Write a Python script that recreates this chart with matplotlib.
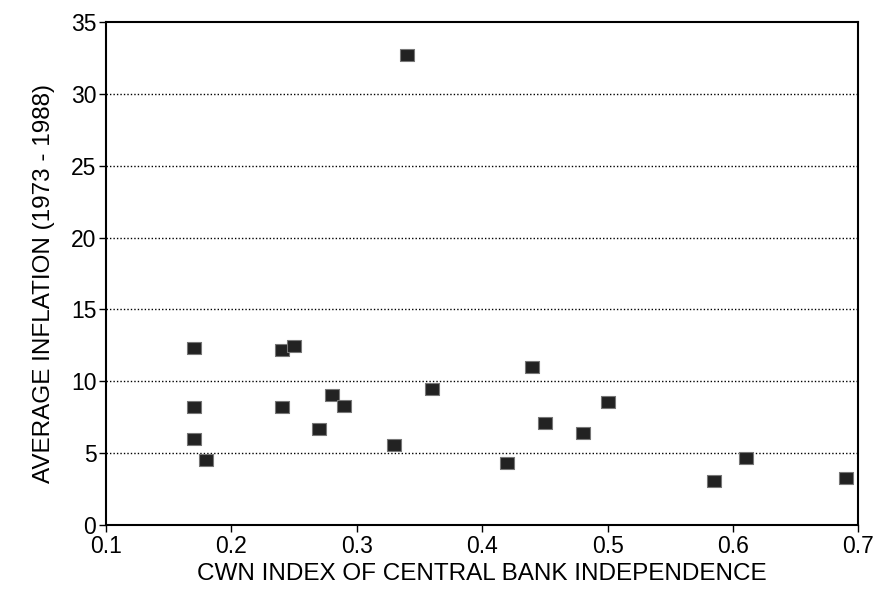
import numpy as np
import matplotlib.pyplot as plt

# CWN index vs average inflation 1973-1988
cwn = [0.17, 0.17, 0.17, 0.18, 0.24, 0.25, 0.24, 0.28, 0.29, 0.27,
       0.33, 0.34, 0.36, 0.42, 0.44, 0.45, 0.48, 0.50, 0.585, 0.61, 0.69]
inflation = [12.3, 8.2, 6.0, 4.5, 12.2, 12.45, 8.2, 9.05, 8.25, 6.65,
             5.55, 32.7, 9.45, 4.3, 11.0, 7.1, 6.4, 8.55, 3.05, 4.7, 3.3]

x_ticks = [0.1, 0.2, 0.3, 0.4, 0.5, 0.6, 0.7]
y_ticks = [0, 5, 10, 15, 20, 25, 30, 35]

plt.rcParams["font.family"] = ["Liberation Sans", "DejaVu Sans"]

fig = plt.figure(figsize=(8.84, 5.90), dpi=100)
ax = fig.add_axes([0.12, 0.110, 0.851, 0.853])

for y in y_ticks[1:-1]:
    ax.axhline(y, color="black", lw=1.0, ls=(0, (1, 1.5)), zorder=1)

# slightly wider-than-tall square markers
box = [(-1.3, -1), (1.3, -1), (1.3, 1), (-1.3, 1), (-1.3, -1)]
ax.scatter(cwn, inflation, marker=box, s=108, c="#222222",
           edgecolors="#777777", linewidths=0.8, zorder=3)

ax.set_xlim(0.1, 0.7)
ax.set_ylim(0, 35)
ax.set_xticks(x_ticks)
ax.set_xticklabels([f"{v:.1f}" for v in x_ticks])
ax.set_yticks(y_ticks)
ax.tick_params(direction="out", length=5, width=1, labelsize=16.5, pad=2)

for s in ax.spines.values():
    s.set_linewidth(1.5)

ax.set_xlabel("CWN INDEX OF CENTRAL BANK INDEPENDENCE", fontsize=17.5, labelpad=4)
ax.set_ylabel("AVERAGE INFLATION (1973 - 1988)", fontsize=17.5)
ax.yaxis.set_label_coords(-0.068, 0.48)

fig.savefig("out.png", dpi=100)
